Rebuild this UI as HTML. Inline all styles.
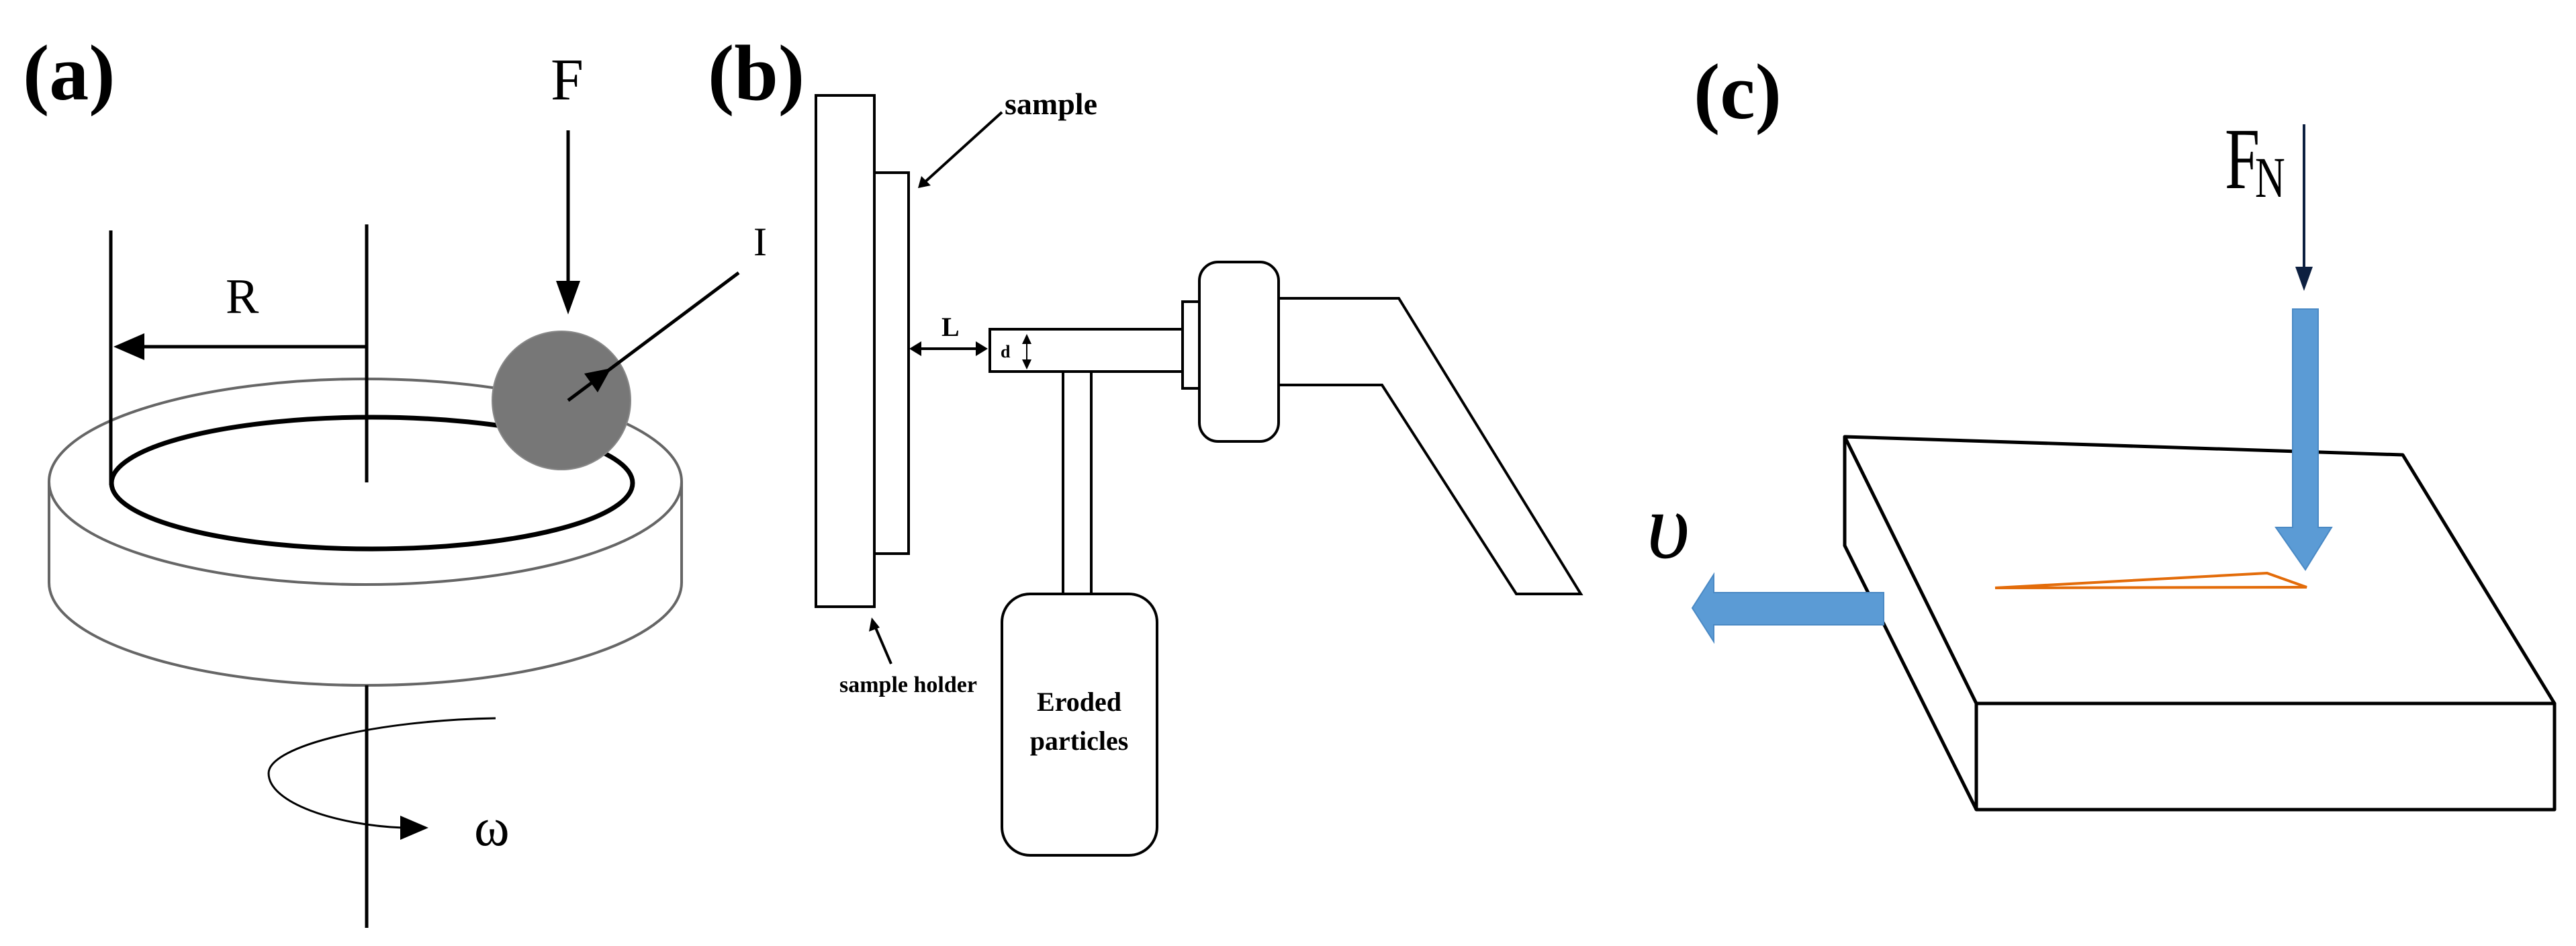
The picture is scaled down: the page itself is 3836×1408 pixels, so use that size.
<!DOCTYPE html>
<html><head><meta charset="utf-8"><style>
html,body{margin:0;padding:0;background:#fff}
svg{display:block}
</style></head><body>
<svg width="3836" height="1408" viewBox="0 0 3836 1408" xmlns="http://www.w3.org/2000/svg" font-family="Liberation Serif, serif">
<!-- (a) -->
<text x="34" y="148" font-size="118" font-weight="bold">(a)</text>
<text x="820" y="148" font-size="88">F</text>
<line x1="846" y1="194" x2="846" y2="420" stroke="#000" stroke-width="5"/>
<polygon points="828,418 864,418 846,468" fill="#000"/>
<!-- cylinder -->
<path d="M73,717 L73,867 A471,153 0 0 0 1015,867 L1015,717" fill="#fff" stroke="#666" stroke-width="4"/>
<ellipse cx="544" cy="717" rx="471" ry="153" fill="#fff" stroke="#666" stroke-width="4"/>
<ellipse cx="554" cy="719" rx="388" ry="98" fill="none" stroke="#000" stroke-width="7"/>
<line x1="165" y1="343" x2="165" y2="722" stroke="#000" stroke-width="5"/>
<line x1="546" y1="334" x2="546" y2="718" stroke="#000" stroke-width="5"/>
<line x1="546" y1="516" x2="200" y2="516" stroke="#000" stroke-width="5"/>
<polygon points="169,516 215,496 215,536" fill="#000"/>
<text x="336" y="466" font-size="74">R</text>
<circle cx="836" cy="596" r="103" fill="#777" stroke="#888" stroke-width="2"/>
<line x1="1100" y1="406" x2="846" y2="596" stroke="#000" stroke-width="5"/>
<polygon points="910,548 870,556 890,584" fill="#000"/>
<text x="1122" y="380" font-size="60">I</text>
<line x1="546" y1="1020" x2="546" y2="1381" stroke="#000" stroke-width="5"/>
<path d="M738,1069 C560,1072 400,1110 400,1151 C400,1195 500,1228 600,1232" fill="none" stroke="#000" stroke-width="3"/>
<polygon points="638,1232 596,1214 596,1250" fill="#000"/>
<text x="706" y="1258" font-size="80">ω</text>
<!-- (b) -->
<text x="1054" y="148" font-size="118" font-weight="bold">(b)</text>
<g fill="none" stroke="#000" stroke-width="4">
<rect x="1215" y="142" width="87" height="761"/>
<rect x="1302" y="257" width="51" height="567"/>
<line x1="1492" y1="167" x2="1375" y2="273"/>
<line x1="1327" y1="988" x2="1302" y2="930"/>
<line x1="1362" y1="519" x2="1462" y2="519"/>
<rect x="1474" y="490" width="287" height="63"/>
<rect x="1761" y="449" width="25" height="129"/>
<rect x="1786" y="390" width="118" height="267" rx="28"/>
<polyline points="1904,444 2083,444 2354,884 2258,884 2058,573 1904,573"/>
<line x1="1583" y1="553" x2="1583" y2="884"/>
<line x1="1625" y1="553" x2="1625" y2="884"/>
<rect x="1492" y="884" width="231" height="389" rx="42"/>
<line x1="1529" y1="505" x2="1529" y2="540" stroke-width="2"/>
</g>
<polygon points="1367,280 1372,262 1386,276" fill="#000"/>
<polygon points="1298,919 1294,940 1310,934" fill="#000"/>
<polygon points="1354,519 1372,508 1372,530" fill="#000"/>
<polygon points="1471,519 1453,508 1453,530" fill="#000"/>
<polygon points="1529,497 1522,512 1536,512" fill="#000"/>
<polygon points="1529,550 1522,535 1536,535" fill="#000"/>
<g font-weight="bold">
<text x="1496" y="170" font-size="46">sample</text>
<text x="1402" y="500" font-size="40">L</text>
<text x="1490" y="532" font-size="26">d</text>
<text x="1250" y="1030" font-size="34">sample holder</text>
<text x="1607" y="1058" font-size="40" text-anchor="middle">Eroded</text>
<text x="1607" y="1116" font-size="40" text-anchor="middle">particles</text>
</g>
<!-- (c) -->
<text x="2522" y="176" font-size="118" font-weight="bold">(c)</text>
<text transform="translate(3313,280) scale(0.72,1)" font-size="130">F</text>
<text transform="translate(3358,293) scale(0.72,1)" font-size="86">N</text>
<line x1="3431" y1="185" x2="3431" y2="400" stroke="#0d2040" stroke-width="4"/>
<polygon points="3418,397 3444,397 3431,433" fill="#0d2040"/>
<g fill="none" stroke="#000" stroke-width="5" stroke-linejoin="round">
<polygon points="2747,650 3578,677 3804,1047 2943,1047"/>
<polyline points="2747,650 2747,812 2943,1205"/>
<rect x="2943" y="1047" width="861" height="158"/>
</g>
<polygon points="2971,875 3376,853 3435,874" fill="none" stroke="#e36c0a" stroke-width="4"/>
<polygon points="3414,460 3452,460 3452,785 3472,785 3433,848 3389,785 3414,785" fill="#5b9bd5" stroke="#4a89c4" stroke-width="2"/>
<polygon points="2805,882 2805,930 2552,930 2552,955 2520,905 2552,855 2552,882" fill="#5b9bd5" stroke="#4a89c4" stroke-width="2"/>
<text x="2452" y="830" font-size="140" font-style="italic">υ</text>
</svg>
</body></html>
